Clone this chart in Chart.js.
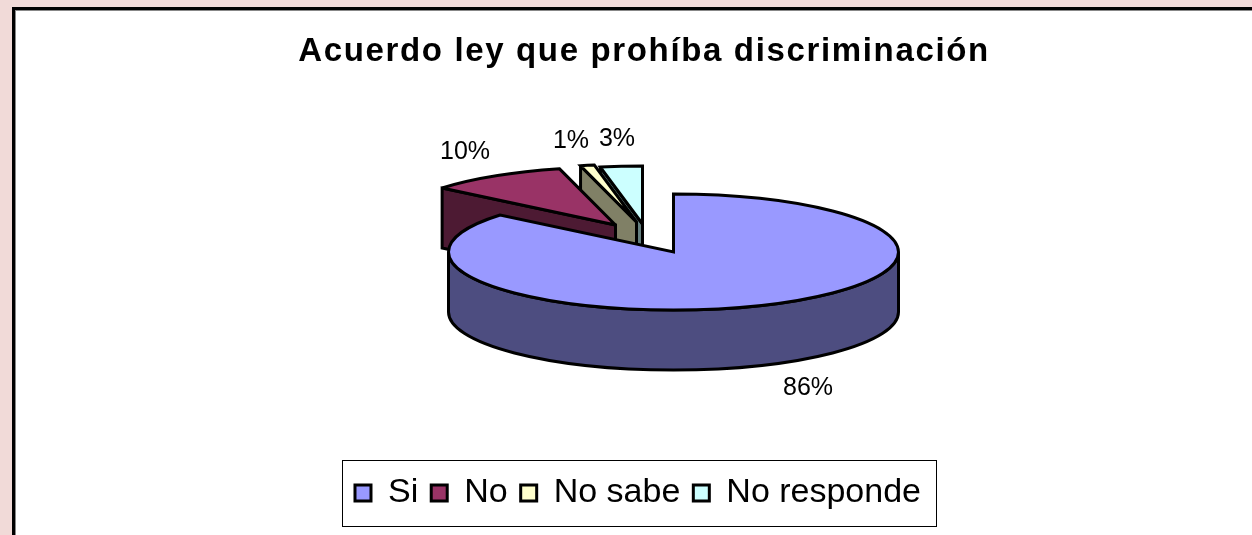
<!DOCTYPE html>
<html><head><meta charset="utf-8">
<style>
html,body{margin:0;padding:0;width:1252px;height:535px;overflow:hidden;background:#f1dad8}
#frame{position:absolute;left:12px;top:7px;width:1300px;height:600px;background:#fff;border-left:3px solid #000;border-top:3px solid #000;box-shadow:inset 1px 1px 0 #888}
#wrap{position:absolute;left:0;top:0;width:1252px;height:535px}
</style>
<script src="https://cdn.jsdelivr.net/npm/chart.js@4"></script>
</head><body>
<div id="frame"></div>
<div id="wrap"><canvas id="c" width="1252" height="535"></canvas></div>
<script>
const titleText = "Acuerdo ley que prohíba discriminación";
const categories = ["Si", "No", "No sabe", "No responde"];
const values = [86, 10, 1, 3];
const topColors = ["#9999FF", "#993366", "#FFFFCC", "#CCFFFF"];
const sideColors = ["#4D4D80", "#4D1A33", "#808066", "#668080"];

// Pseudo-3D projection of the library's arc elements (style constants)
const view = {cx: 673.5, cy: 252, rx: 225, ry: 58, depth: 60};
const explode = [[0, 0], [-58, -27], [-37, -30], [-31, -28]];
const labelAt = [[808, 388], [465, 152], [571, 141], [617, 139]];
const drawOrder = [3, 2, 1, 0];

const pie3d = {
  id: 'pie3d',
  afterLayout(chart) {
    const lg = chart.legend;
    const h = lg.bottom - lg.top;
    lg.left -= 6; lg.right -= 6;
    lg.top = 463; lg.bottom = 463 + h;
    const tb = chart.titleBlock;
    const origDraw = tb.draw;
    tb.draw = function () {
      chart.ctx.letterSpacing = '1.65px';
      origDraw.call(tb);
      chart.ctx.letterSpacing = '0px';
    };
  },
  beforeDatasetsDraw(chart) {
    const ctx = chart.ctx;
    const arcs = chart.getDatasetMeta(0).data;
    const total = values.reduce((a, b) => a + b, 0);
    ctx.save();
    ctx.lineWidth = 3;
    ctx.lineJoin = 'miter';
    ctx.miterLimit = 2.5;
    ctx.strokeStyle = '#000';
    const shape = (fill) => { ctx.closePath(); ctx.fillStyle = fill; ctx.fill(); ctx.stroke(); };
    drawOrder.forEach(i => {
      const {startAngle: a0, endAngle: a1} = arcs[i].getProps(['startAngle', 'endAngle'], true);
      const x = view.cx + explode[i][0], y = view.cy + explode[i][1];
      const pt = a => [x + view.rx * Math.cos(a), y + view.ry * Math.sin(a)];
      const wall = a => {
        const p = pt(a);
        ctx.beginPath();
        ctx.moveTo(x, y); ctx.lineTo(p[0], p[1]);
        ctx.lineTo(p[0], p[1] + view.depth); ctx.lineTo(x, y + view.depth);
        shape(sideColors[i]);
      };
      if (Math.cos(a0) < -1e-6) wall(a0);
      if (Math.cos(a1) > 1e-6) wall(a1);
      const s = Math.max(a0, 0), e = Math.min(a1, Math.PI);
      if (e > s) {
        ctx.beginPath();
        ctx.ellipse(x, y, view.rx, view.ry, 0, s, e);
        ctx.ellipse(x, y + view.depth, view.rx, view.ry, 0, e, s, true);
        shape(sideColors[i]);
      }
      ctx.beginPath();
      ctx.moveTo(x, y);
      ctx.ellipse(x, y, view.rx, view.ry, 0, a0, a1);
      shape(topColors[i]);
    });
    ctx.fillStyle = '#000';
    ctx.font = '25px "Liberation Sans"';
    ctx.textAlign = 'center';
    ctx.textBaseline = 'middle';
    values.forEach((v, i) => {
      ctx.fillText(Math.round(v / total * 100) + '%', labelAt[i][0], labelAt[i][1]);
    });
    ctx.restore();
    return false;
  },
  afterDraw(chart) {
    const ctx = chart.ctx;
    ctx.save();
    ctx.strokeStyle = '#000';
    ctx.lineWidth = 1;
    ctx.strokeRect(342.5, 460.5, 594, 66);
    ctx.restore();
  }
};

new Chart(document.getElementById('c'), {
  type: 'pie',
  data: {
    labels: categories,
    datasets: [{data: values, backgroundColor: topColors, borderColor: '#000', borderWidth: 3}]
  },
  options: {
    responsive: false,
    animation: false,
    layout: {padding: {left: 36}},
    plugins: {
      tooltip: {enabled: false},
      title: {
        display: true, text: titleText, color: '#000',
        font: {family: '"Liberation Sans"', size: 33, weight: 'bold'},
        padding: {top: 32, bottom: 10}
      },
      legend: {
        position: 'bottom',
        labels: {
          color: '#000',
          font: {family: '"Liberation Sans"', size: 34},
          boxWidth: 16, boxHeight: 16, padding: 13
        }
      }
    }
  },
  plugins: [pie3d]
});
</script>
</body></html>
